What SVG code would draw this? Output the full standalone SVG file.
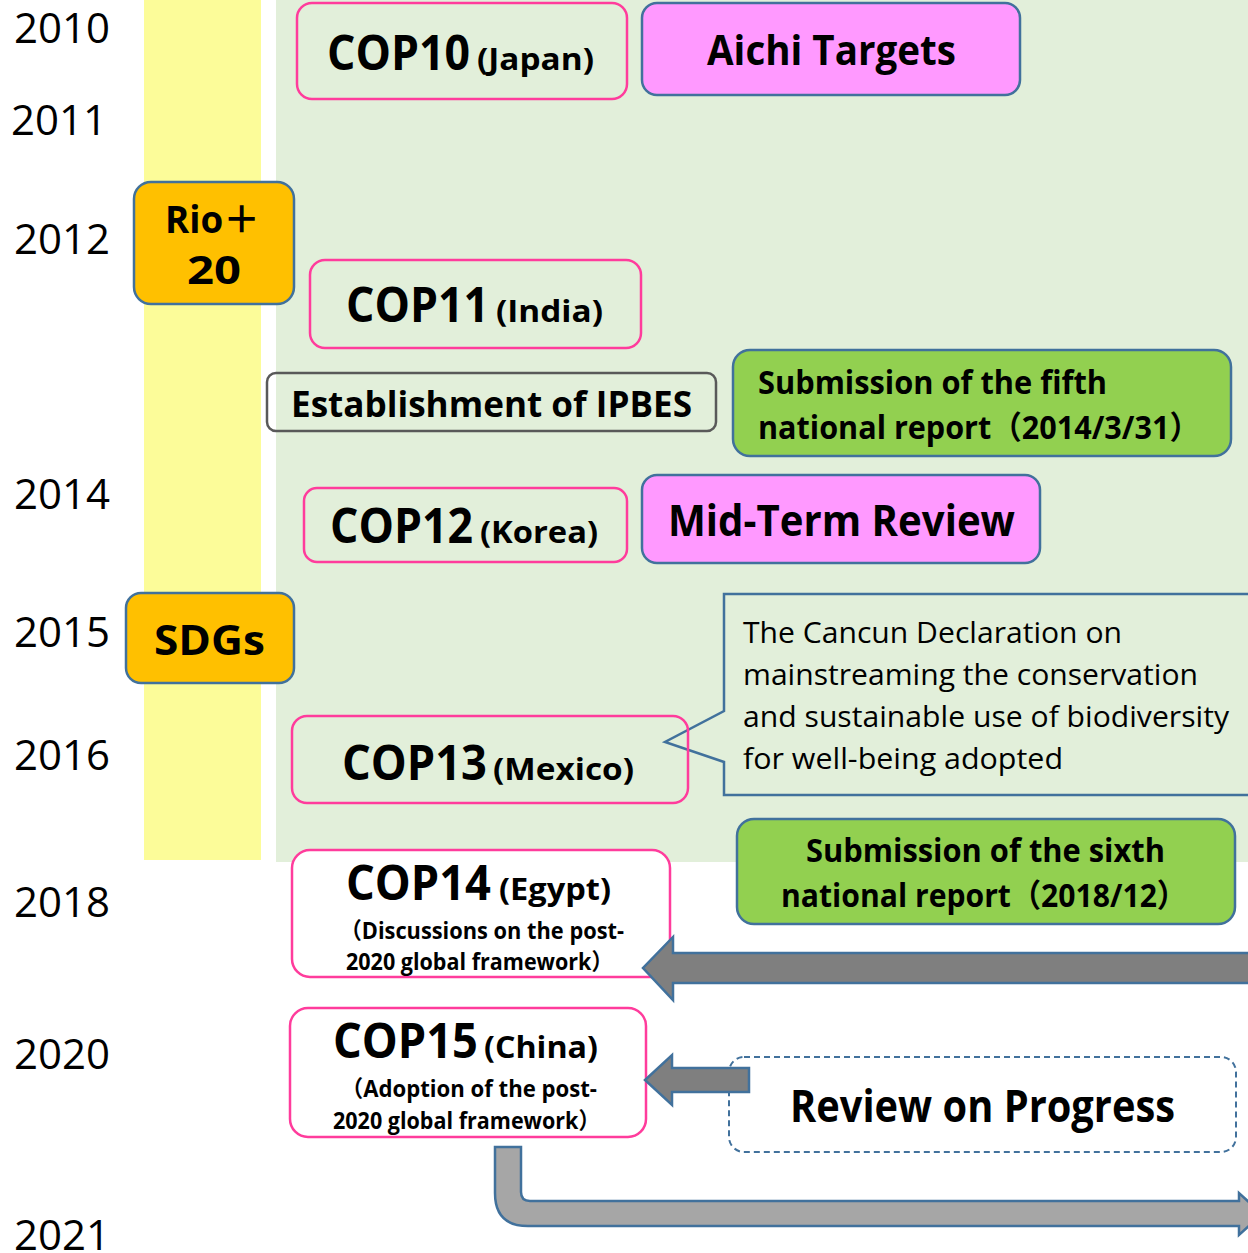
<svg xmlns="http://www.w3.org/2000/svg" width="1248" height="1253" viewBox="0 0 1248 1253">
<style>
text{font-family:"Open Sans","Noto Sans","Noto Sans CJK JP",sans-serif;fill:#000}
.yr{font-size:42px;font-weight:400}
.b{font-weight:700}
.cop{font-size:48px;font-weight:700}
.par{font-size:31px;font-weight:700}
.sm{font-size:23px;font-weight:700}
.pk{fill:none;stroke:#FF3C9C;stroke-width:2.5}
.pkw{fill:#fff;stroke:#FF3C9C;stroke-width:2.5}
.mag{fill:#FF99FF;stroke:#41719C;stroke-width:2.5}
.org{fill:#FFC000;stroke:#41719C;stroke-width:2.5}
.grn{fill:#92D050;stroke:#41719C;stroke-width:2.5}
.arr{stroke:#41719C;stroke-width:2.5}
</style>
<rect x="0" y="0" width="1248" height="1253" fill="#fff"/>
<rect x="144" y="0" width="117" height="860" fill="#FCFC99"/>
<rect x="276" y="0" width="972" height="862" fill="#E2EFDA"/>

<g id="years">
<text class="yr" x="14" y="43" textLength="96" lengthAdjust="spacingAndGlyphs">2010</text>
<text class="yr" x="11" y="135" textLength="96" lengthAdjust="spacingAndGlyphs">2011</text>
<text class="yr" x="14" y="254" textLength="96" lengthAdjust="spacingAndGlyphs">2012</text>
<text class="yr" x="14" y="509" textLength="96" lengthAdjust="spacingAndGlyphs">2014</text>
<text class="yr" x="14" y="647" textLength="96" lengthAdjust="spacingAndGlyphs">2015</text>
<text class="yr" x="14" y="770" textLength="96" lengthAdjust="spacingAndGlyphs">2016</text>
<text class="yr" x="14" y="917" textLength="96" lengthAdjust="spacingAndGlyphs">2018</text>
<text class="yr" x="14" y="1069" textLength="96" lengthAdjust="spacingAndGlyphs">2020</text>
<text class="yr" x="14" y="1250" textLength="96" lengthAdjust="spacingAndGlyphs">2021</text>
</g>

<g id="cop10">
<rect class="pk" x="297" y="3" width="330" height="96" rx="15"/>
<text class="cop" x="327" y="70" textLength="143" lengthAdjust="spacingAndGlyphs">COP10</text>
<text class="par" x="477" y="70" textLength="117" lengthAdjust="spacingAndGlyphs">(Japan)</text>
</g>

<g id="aichi">
<rect class="mag" x="642" y="3" width="378" height="92" rx="15"/>
<text class="b" x="707" y="65" font-size="42" textLength="249" lengthAdjust="spacingAndGlyphs">Aichi Targets</text>
</g>

<g id="rio20">
<rect class="org" x="134" y="182" width="160" height="122" rx="17"/>
<text class="b" x="165" y="233" font-size="37" textLength="95" lengthAdjust="spacingAndGlyphs">Rio＋</text>
<text class="b" x="187" y="284" font-size="40" textLength="54" lengthAdjust="spacingAndGlyphs">20</text>
</g>

<g id="cop11">
<rect class="pk" x="310" y="260" width="331" height="88" rx="15"/>
<text class="cop" x="346" y="322" textLength="143" lengthAdjust="spacingAndGlyphs">COP11</text>
<text class="par" x="496" y="322" textLength="107" lengthAdjust="spacingAndGlyphs">(India)</text>
</g>

<g id="ipbes">
<rect x="267" y="373" width="449" height="58" rx="9" fill="none" stroke="#595959" stroke-width="2.5"/>
<text class="b" x="291" y="417" font-size="35" textLength="401" lengthAdjust="spacingAndGlyphs">Establishment of IPBES</text>
</g>

<g id="fifth">
<rect class="grn" x="733" y="350" width="498" height="106" rx="17"/>
<text class="b" x="758" y="394" font-size="32" textLength="349" lengthAdjust="spacingAndGlyphs">Submission of the fifth</text>
<text class="b" x="758" y="439" font-size="32" textLength="442" lengthAdjust="spacingAndGlyphs">national report（2014/3/31）</text>
</g>

<g id="cop12">
<rect class="pk" x="304" y="488" width="323" height="74" rx="13"/>
<text class="cop" x="330" y="543" textLength="143" lengthAdjust="spacingAndGlyphs">COP12</text>
<text class="par" x="480" y="543" textLength="118" lengthAdjust="spacingAndGlyphs">(Korea)</text>
</g>

<g id="midterm">
<rect class="mag" x="642" y="475" width="398" height="88" rx="15"/>
<text class="b" x="668" y="536" font-size="43" textLength="347" lengthAdjust="spacingAndGlyphs">Mid-Term Review</text>
</g>

<g id="sdgs">
<rect class="org" x="126" y="593" width="168" height="90" rx="15"/>
<text class="b" x="154" y="655" font-size="41" textLength="111" lengthAdjust="spacingAndGlyphs">SDGs</text>
</g>

<g id="cancun">
<path d="M724,594 L1252,594 L1252,795 L724,795 L724,762 L665,742 L724,711 Z" fill="#E2EFDA" stroke="#41719C" stroke-width="2.5"/>
<text x="743" y="643" font-size="29" textLength="379" lengthAdjust="spacingAndGlyphs">The Cancun Declaration on</text>
<text x="743" y="685" font-size="29" textLength="455" lengthAdjust="spacingAndGlyphs">mainstreaming the conservation</text>
<text x="743" y="727" font-size="29" textLength="486" lengthAdjust="spacingAndGlyphs">and sustainable use of biodiversity</text>
<text x="743" y="769" font-size="29" textLength="320" lengthAdjust="spacingAndGlyphs">for well-being adopted</text>
</g>

<g id="cop13">
<rect class="pk" x="292" y="716" width="396" height="87" rx="15"/>
<text class="cop" x="342" y="780" textLength="145" lengthAdjust="spacingAndGlyphs">COP13</text>
<text class="par" x="493" y="780" textLength="141" lengthAdjust="spacingAndGlyphs">(Mexico)</text>
</g>

<g id="cop14">
<rect class="pkw" x="292" y="850" width="378" height="127" rx="18"/>
<text class="cop" x="346" y="900" textLength="145" lengthAdjust="spacingAndGlyphs">COP14</text>
<text class="par" x="499" y="900" textLength="112" lengthAdjust="spacingAndGlyphs">(Egypt)</text>
<text class="sm" x="340" y="939" textLength="284" lengthAdjust="spacingAndGlyphs">（Discussions on the post-</text>
<text class="sm" x="346" y="970" textLength="267" lengthAdjust="spacingAndGlyphs">2020 global framework）</text>
</g>

<g id="sixth">
<rect class="grn" x="737" y="819" width="498" height="105" rx="17"/>
<text class="b" x="806" y="862" font-size="32" textLength="359" lengthAdjust="spacingAndGlyphs">Submission of the sixth</text>
<text class="b" x="781" y="907" font-size="32" textLength="406" lengthAdjust="spacingAndGlyphs">national report（2018/12）</text>
</g>

<g id="cop15">
<rect class="pkw" x="290" y="1008" width="356" height="129" rx="18"/>
<text class="cop" x="333" y="1058" textLength="145" lengthAdjust="spacingAndGlyphs">COP15</text>
<text class="par" x="484" y="1058" textLength="114" lengthAdjust="spacingAndGlyphs">(China)</text>
<text class="sm" x="341" y="1097" textLength="256" lengthAdjust="spacingAndGlyphs">（Adoption of the post-</text>
<text class="sm" x="333" y="1129" textLength="267" lengthAdjust="spacingAndGlyphs">2020 global framework）</text>
</g>

<g id="review">
<rect x="729" y="1057" width="507" height="95" rx="15" fill="#fff" stroke="#41719C" stroke-width="2" stroke-dasharray="6,4"/>
<text class="b" x="790" y="1122" font-size="44" textLength="385" lengthAdjust="spacingAndGlyphs">Review on Progress</text>
</g>

<g id="connectors">
<path class="arr" fill="#7F7F7F" d="M1252,953 L673,953 L673,937 L643,968 L673,1000 L673,983 L1252,983 Z"/>
<path class="arr" fill="#7F7F7F" d="M749,1068 L672,1068 L672,1055 L645,1080 L672,1105 L672,1092 L749,1092 Z"/>
<path class="arr" fill="#A6A6A6" d="M495,1147 L521,1147 L521,1192 Q521,1201 530,1201 L1239,1201 L1239,1193 L1262,1214 L1239,1235 L1239,1226 L528,1226 Q495,1226 495,1193 Z"/>
</g>
</svg>
